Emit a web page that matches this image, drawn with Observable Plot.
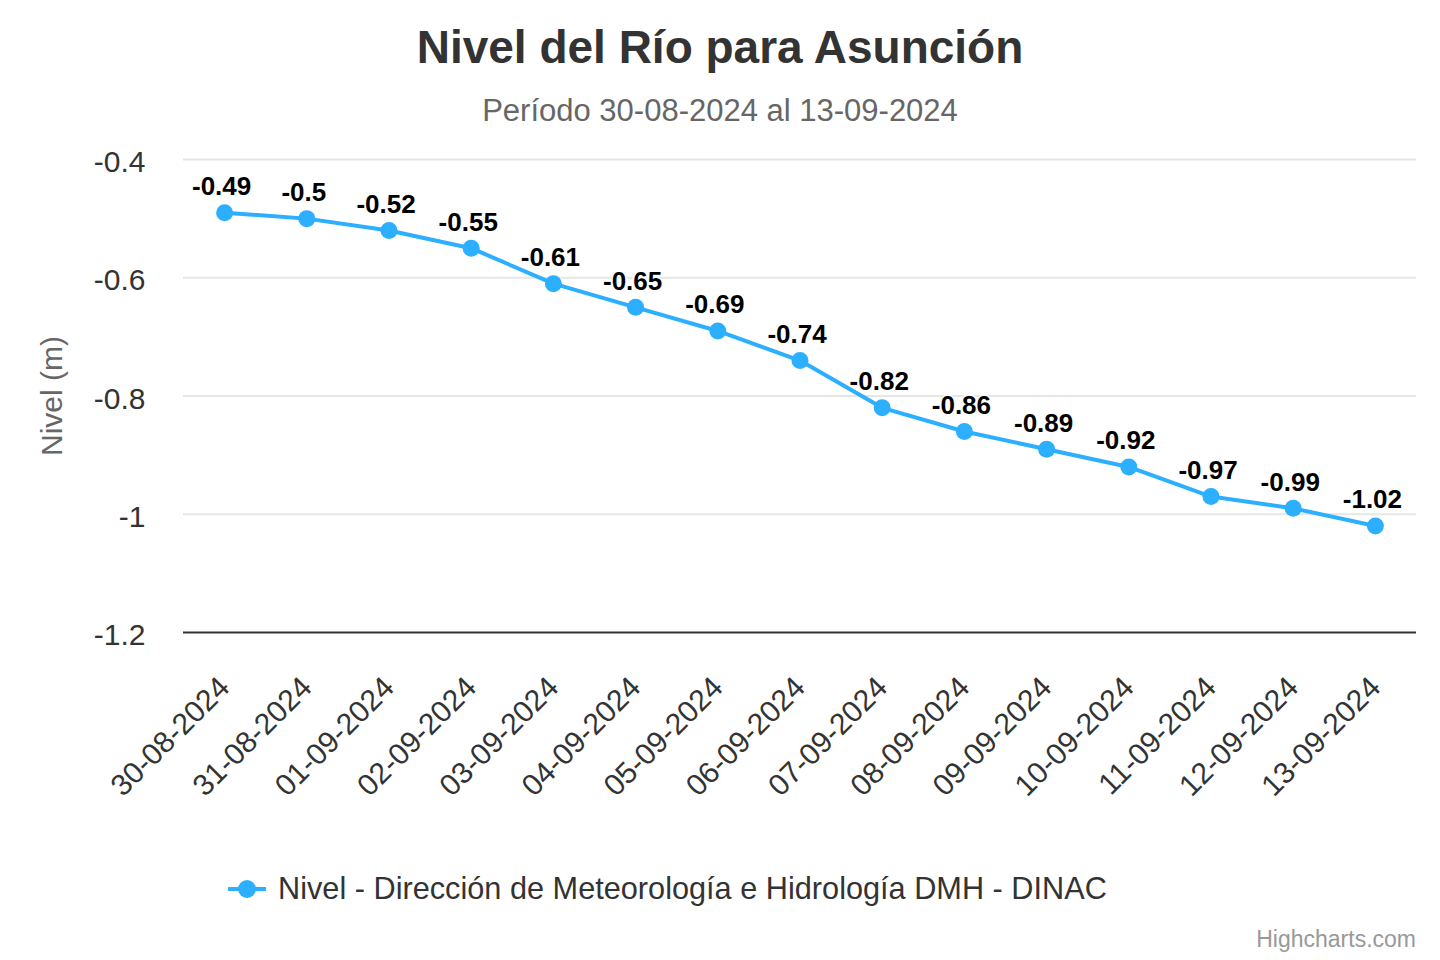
<!DOCTYPE html>
<html>
<head>
<meta charset="utf-8">
<script src="https://cdn.jsdelivr.net/npm/d3@7"></script>
<script src="https://cdn.jsdelivr.net/npm/@observablehq/plot@0.6"></script>
<style>
  html, body { margin: 0; padding: 0; background: #fff; }
  body { width: 1440px; height: 960px; position: relative; overflow: hidden; font-family: "Liberation Sans", Arial, sans-serif; }
  #title { position: absolute; top: 17px; left: 0; width: 1440px; text-align: center; font-size: 46px; font-weight: bold; color: #333; line-height: 60px; }
  #subtitle { position: absolute; top: 91px; left: 0; width: 1440px; text-align: center; font-size: 31px; color: #666; line-height: 40px; }
  #chart { position: absolute; top: 135px; left: 0; }
  #legend { position: absolute; top: 868px; left: 228px; font-size: 30.7px; color: #333; display: flex; align-items: center; line-height: 42px; }
  #legend svg { margin-right: 12px; }
  #credits { position: absolute; top: 926px; right: 24px; font-size: 23px; color: #999; }
</style>
</head>
<body>
<div id="title">Nivel del Río para Asunción</div>
<div id="subtitle">Período 30-08-2024 al 13-09-2024</div>
<div id="chart"></div>
<div id="legend"><svg width="38" height="20"><line x1="1" y1="10" x2="37" y2="10" stroke="#2caffe" stroke-width="4" stroke-linecap="round"></line><circle cx="19" cy="10" r="9" fill="#2caffe"></circle></svg><span>Nivel - Dirección de Meteorología e Hidrología DMH - DINAC</span></div>
<div id="credits">Highcharts.com</div>
<script>
const dates = ["30-08-2024","31-08-2024","01-09-2024","02-09-2024","03-09-2024","04-09-2024","05-09-2024","06-09-2024","07-09-2024","08-09-2024","09-09-2024","10-09-2024","11-09-2024","12-09-2024","13-09-2024"];
const levels = [-0.49,-0.5,-0.52,-0.55,-0.61,-0.65,-0.69,-0.74,-0.82,-0.86,-0.89,-0.92,-0.97,-0.99,-1.02];
const yTicks = [-0.4,-0.6,-0.8,-1,-1.2];
const seriesColor = "#2caffe";

const data = dates.map((d, i) => ({date: d, value: levels[i]}));
const fmt = v => String(+v.toFixed(2));

const chart = Plot.plot({
  width: 1440,
  height: 700,
  marginTop: 24,
  marginBottom: 203,
  marginLeft: 183,
  marginRight: 24,
  style: { fontFamily: "'Liberation Sans', Arial, sans-serif", color: "#333", background: "transparent" },
  x: { type: "band", domain: dates, padding: 0, align: 0.5, round: false, label: null },
  y: { domain: [-1.2, -0.4], ticks: yTicks, label: null },
  marks: [
    Plot.ruleY(yTicks.slice(0, 4), { stroke: "#e6e6e6", strokeWidth: 2 }),
    Plot.ruleY([-1.2], { stroke: "#333", strokeWidth: 2 }),
    Plot.axisY({ ticks: yTicks, tickSize: 0, tickPadding: 38, tickFormat: fmt, fontSize: 30, fill: "#333", dy: 3, label: null }),
    Plot.axisX({ tickSize: 0, tickPadding: 50, tickRotate: -45, fontSize: 30, fill: "#333", dx: 0, label: null }),
    Plot.text(["Nivel (m)"], { frameAnchor: "left", textAnchor: "middle", dx: -131, rotate: -90, fontSize: 30, fill: "#666" }),
    Plot.line(data, { x: "date", y: "value", stroke: seriesColor, strokeWidth: 4 }),
    Plot.dot(data, { x: "date", y: "value", r: 8.5, fill: seriesColor, stroke: "none" }),
    Plot.text(data, { x: "date", y: "value", text: d => fmt(d.value), dx: -3, dy: -26, fontSize: 26, fontWeight: "bold", fill: "#000", stroke: "#fff", strokeWidth: 3 })
  ]
});
document.getElementById("chart").appendChild(chart);
</script>
</body>
</html>
